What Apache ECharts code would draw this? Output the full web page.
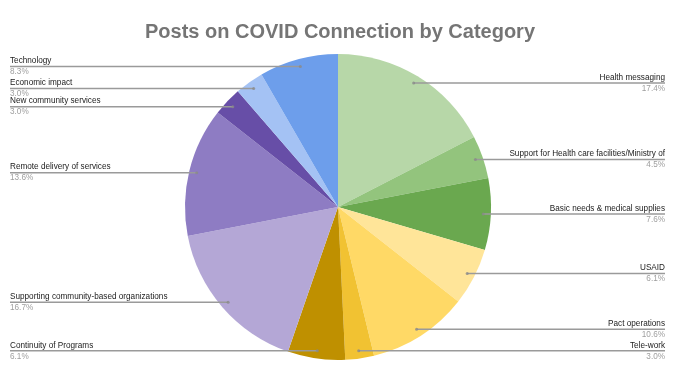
<!DOCTYPE html>
<html>
<head>
<meta charset="utf-8">
<script src="https://cdn.jsdelivr.net/npm/echarts@6/dist/echarts.min.js"></script>
<style>
html,body{margin:0;padding:0;background:#fff;}
#chart{width:680px;height:370px;}
</style>
</head>
<body>
<div id="chart"></div>
<script>
var categories = [
  'Health messaging',
  'Support for Health care facilities/Ministry of',
  'Basic needs & medical supplies',
  'USAID',
  'Pact operations',
  'Tele-work',
  'Continuity of Programs',
  'Supporting community-based organizations',
  'Remote delivery of services',
  'New community services',
  'Economic impact',
  'Technology'
];
var counts = [23, 6, 10, 8, 14, 4, 8, 22, 18, 4, 4, 11];
var colors = ['#b7d7a8', '#93c47d', '#6aa84f', '#ffe599', '#ffd966', '#f1c232',
              '#bf9000', '#b4a7d6', '#8e7cc3', '#674ea7', '#a4c2f4', '#6d9eeb'];
var titleText = 'Posts on COVID Connection by Category';

var CX = 338, CY = 207, R = 153, DOT = 0.95;
var LEFT_X = 10, RIGHT_X = 665;
var FONT = 'Liberation Sans, Arial, sans-serif';

var total = counts.reduce(function (a, b) { return a + b; }, 0);
var mids = [];
var acc = 0;
for (var i = 0; i < counts.length; i++) {
  mids.push(acc + counts[i] / 2);
  acc += counts[i];
}
function dotPos(idx) {
  var a = (90 - mids[idx] / total * 360) * Math.PI / 180;
  return [CX + R * DOT * Math.cos(a), CY - R * DOT * Math.sin(a)];
}

var chart = echarts.init(document.getElementById('chart'));
chart.setOption({
  backgroundColor: '#ffffff',
  animation: false,
  title: {
    text: titleText,
    left: 'center',
    top: 17,
    textStyle: { fontFamily: FONT, fontSize: 20, fontWeight: 'bold', color: '#757575' }
  },
  polar: { center: [CX, CY], radius: R },
  angleAxis: { type: 'value', min: 0, max: total, startAngle: 90, clockwise: true, show: false },
  radiusAxis: { type: 'value', min: 0, max: 1, show: false },
  series: [
    {
      type: 'pie',
      z: 1,
      center: [CX, CY],
      radius: R,
      startAngle: 90,
      clockwise: true,
      silent: true,
      itemStyle: { borderWidth: 0 },
      label: { show: false },
      labelLine: { show: false },
      data: categories.map(function (c, i) {
        return { name: c, value: counts[i], itemStyle: { color: colors[i] } };
      })
    },
    {
      type: 'pie',
      z: 3,
      center: [CX, CY],
      radius: R,
      startAngle: 90,
      clockwise: true,
      silent: true,
      avoidLabelOverlap: false,
      itemStyle: { color: 'rgba(0,0,0,0)', borderWidth: 0 },
      data: categories.map(function (c, i) {
        return { name: c, value: counts[i] };
      }),
      label: {
        show: true,
        position: 'outer',
        fontFamily: FONT,
        formatter: function (p) {
          return '{n|' + p.name + '}\n{p|' + (p.value / total * 100).toFixed(1) + '%}';
        },
        rich: {
          n: { fontSize: 8.2, color: '#222222', lineHeight: 11, fontFamily: FONT },
          p: { fontSize: 8.2, color: '#9e9e9e', lineHeight: 11, fontFamily: FONT }
        }
      },
      labelLine: {
        show: true,
        length: 5,
        length2: 5,
        lineStyle: { color: '#9a9a9a', width: 1.5 }
      },
      labelLayout: function (params) {
        var d = dotPos(params.dataIndex);
        var right = d[0] >= CX;
        var ex = right ? RIGHT_X : LEFT_X;
        return {
          x: ex,
          y: d[1],
          align: right ? 'right' : 'left',
          verticalAlign: 'middle',
          labelLinePoints: [[d[0], d[1]], [ex, d[1]]]
        };
      }
    },
    {
      type: 'scatter',
      coordinateSystem: 'polar',
      symbol: 'circle',
      symbolSize: 3,
      silent: true,
      itemStyle: { color: '#8a8a8a' },
      data: mids.map(function (m) { return [DOT, m]; }),
      z: 5
    }
  ]
});
</script>
</body>
</html>
